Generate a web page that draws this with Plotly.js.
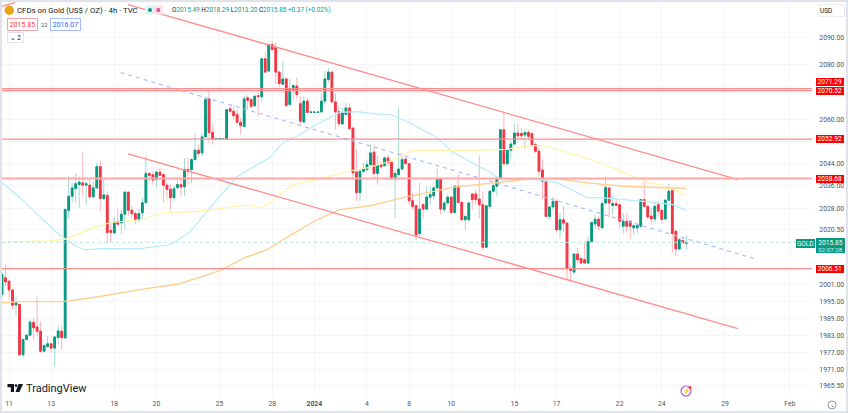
<!DOCTYPE html>
<html>
<head>
<meta charset="utf-8">
<script src="https://cdn.plot.ly/plotly-3.0.1.min.js"></script>
<style>
  html, body { margin: 0; padding: 0; background: #e0e3eb; overflow: hidden; }
  #chart { position: absolute; left: 2px; top: 2px; width: 844px; height: 409px; }
</style>
</head>
<body>
<div id="chart"></div>
<script>
// candles, 4h bars, first one sits two bars before the "11" tick
const opens = [
  1997.4,2003.3,2002.1,1999.0,1993.7,1993.9,1976.3,1981.6,1983.1,1987.6,
  1986.0,1984.5,1977.5,1979.2,1980.1,1978.6,1982.3,1984.5,1982.2,2027.2,
  2032.3,2035.1,2036.5,2037.1,2036.3,2036.3,2032.1,2035.3,2042.9,2031.4,
  2032.6,2020.1,2019.2,2023.3,2022.8,2025.9,2033.8,2027.3,2026.1,2024.0,
  2026.4,2030,2040.5,2040,2038.3,2041,2040.1,2036.3,2034.8,2031.8,
  2035.4,2036.5,2035.7,2041.9,2041.9,2045.5,2048.9,2047.9,2053.7,2067.5,
  2055.3,2053,2053,2053,2053,2063.9,2063,2061.8,2059,2057.5,
  2067.9,2067.3,2065,2068.7,2068.3,2082.2,2077.7,2087.4,2086.2,2077.3,
  2072.9,2074.8,2065.5,2071,2072.2,2065.8,2059.1,2066.7,2062.6,2062.6,
  2062.6,2062.8,2066.7,2074.6,2077.3,2066.4,2062.8,2058.4,2061.8,2064.2,
  2056.9,2041,2033.6,2041.3,2041.9,2043.7,2048.2,2040.5,2043.7,2043.3,
  2046.1,2044.5,2038.5,2040.1,2042.1,2045.7,2044,2030.7,2029,2018.9,
  2029.3,2027.7,2032,2032.5,2035.3,2038.5,2027.5,2029.9,2032,2026.5,
  2035.9,2030.1,2023.9,2023.9,2033.1,2033.1,2031.3,2029.3,2014.1,2028.7,
  2034.1,2035.9,2038.3,2056.3,2044,2048.9,2051.1,2055.1,2054.9,2054.4,
  2055.3,2054.9,2050.9,2048.5,2041.7,2037.7,2025.1,2028.5,2030.5,2020.3,
  2023.9,2022.7,2006.5,2005.3,2011.7,2010.1,2009.7,2008.5,2016.1,2022.4,
  2024.1,2021,2029.9,2035.3,2029,2029.7,2029.3,2021.6,2023.4,2023.4,
  2021,2021,2021.6,2031.1,2028.7,2025.2,2024.2,2029.3,2027.3,2024.2,
  2030.9,2034.5,2019.8,2013.5,2016.5,2015.49
];
const highs = [
  2005.1,2008.0,2002.7,1999.4,1996.6,1994.0,1982.0,1983.5,1988.6,1989.2,
  1996.8,1988.0,1979.8,1982.8,1980.4,1982.8,1986.3,1986.5,2027.7,2039.5,
  2037.1,2040.5,2039.3,2048.1,2037.7,2038.5,2037.7,2044.3,2045.2,2038.3,
  2034.1,2023.4,2024.6,2027.6,2027.6,2033.9,2033.9,2029,2027,2027.8,
  2031.8,2047,2040.9,2041.3,2041.3,2042.5,2040.5,2037.2,2036.5,2036,
  2039,2038.3,2046,2046,2046,2055.1,2050.9,2054.9,2068,2070.3,
  2058.1,2053.3,2053.3,2053.3,2063.9,2065.5,2065.1,2063.6,2060.6,2068.5,
  2068.9,2067.9,2068.7,2070.3,2082.3,2084.4,2087.7,2088.6,2088,2077.4,
  2081.3,2075,2074.8,2072.8,2075.2,2068.5,2068.5,2067.9,2062.9,2062.9,
  2062.9,2069.7,2077.7,2078.9,2077.7,2069.7,2064.6,2064.2,2066.1,2065.8,
  2057,2049.1,2041.9,2044.3,2045.5,2050.9,2050.9,2046.7,2044.9,2046.7,
  2047.3,2044.9,2041.9,2064.1,2047.9,2046.9,2044.1,2033.5,2029.3,2037.1,
  2029.9,2035.9,2035.9,2035.9,2042.1,2039.3,2030.5,2032.9,2032.3,2036.1,
  2040.5,2030.5,2025.7,2030.1,2033.5,2034.7,2046.9,2034.1,2029.3,2034.7,
  2037.1,2039.7,2056.5,2062.3,2049.1,2052.1,2058.5,2058.5,2056.9,2056.5,
  2056.3,2055.4,2051.5,2050.3,2045.5,2037.9,2028.7,2032.1,2031.1,2026.3,
  2028.9,2023,2007.5,2011.9,2013.7,2010.7,2016.1,2017.9,2023.3,2025.7,
  2025.1,2031.1,2039.5,2035.6,2032.9,2031.7,2029.5,2026.4,2026.4,2023.5,
  2022.2,2022.8,2031.4,2037.7,2029.3,2028.1,2029.9,2030.5,2027.6,2031.4,
  2036.8,2034.7,2020.4,2017.4,2017.4,2018.29
];
const lows = [
  1996.3,2000.4,1995.7,1992.1,1990.0,1975.9,1975.5,1981.4,1982.8,1981.6,
  1982.8,1976.9,1977.1,1978.6,1976.9,1972.5,1979.8,1978.1,1981.8,2024.2,
  2030,2030,2028.2,2032.3,2029.3,2031.4,2031.7,2035,2027,2031.1,
  2015.6,2015.9,2018.6,2021.8,2018.6,2020.4,2025.4,2024.6,2022.2,2022.8,
  2024,2029.8,2037.9,2036.5,2035.5,2039.5,2030,2031.2,2027.3,2030.6,
  2034.7,2032.4,2032.4,2036.5,2037,2044.9,2046.7,2046.7,2053.4,2051.5,
  2050.9,2052.8,2052.8,2052.8,2052.9,2062.4,2060.2,2058.5,2054.5,2057.3,
  2063.6,2064.2,2064.6,2061.2,2066.7,2077,2077.3,2085,2072.8,2071.6,
  2072.8,2064.6,2065.1,2067.3,2067.5,2058.1,2058.7,2062.4,2062.4,2062.4,
  2062.4,2062.4,2065.5,2073.4,2066.1,2056.3,2057.5,2058.1,2061.7,2056.5,
  2038.9,2030.6,2030.6,2040.5,2041.3,2043.1,2038.9,2036.5,2042.3,2042.9,
  2043.1,2038.3,2024.5,2039.3,2041.9,2043.7,2029.3,2027.5,2016.7,2018.1,
  2024.5,2027.5,2029.3,2031.1,2034.9,2025.7,2026.5,2029.3,2026,2026,
  2029.7,2023.7,2020.3,2023.3,2027.7,2029.3,2024.5,2012.9,2013.7,2027.7,
  2033.5,2032.5,2038.1,2043.3,2043.1,2045.7,2050.9,2052.9,2052.7,2049.1,
  2053,2050.3,2047.9,2039.7,2031.3,2024.9,2023.7,2027.5,2019.7,2017.3,
  2019.7,2002.5,2001.7,2004.7,2008.3,2008.3,2008.3,2008.3,2015.7,2020.5,
  2020,2021,2029.3,2024.6,2025.8,2028.7,2021,2019,2019.2,2016.8,
  2018.6,2019.2,2021,2028.1,2024,2022.2,2022.8,2025.2,2022.8,2024,
  2030.5,2012.1,2010.9,2013,2015.1,2013.2
];
const closes = [
  2004.5,2001.8,1999.0,1993.6,1994.5,1976.3,1981.6,1983.1,1987.7,1985.7,
  1984.5,1977.5,1979.5,1980.1,1978.6,1982.5,1984.6,1982.2,2027.6,2032.3,
  2035.3,2036.8,2037.4,2036.3,2036.8,2032.1,2035.3,2042.9,2031.5,2032.8,
  2019.4,2019.4,2023.1,2022.3,2025.9,2033.8,2027.3,2026.1,2024.0,2026.1,
  2030,2040.5,2039.8,2038.1,2041,2039.8,2036.3,2034.8,2031.8,2035,
  2036.5,2035.6,2041.9,2041.3,2045.5,2048.9,2047.7,2053.7,2067.3,2055.3,
  2053,2053.1,2053.1,2053.1,2063.6,2063,2061.4,2059,2057.8,2067.5,
  2067,2064.8,2068.5,2068.3,2082.2,2077.3,2087.4,2085.6,2077.3,2073.1,
  2074.8,2065.1,2071,2072.4,2069.1,2059.4,2066.7,2062.6,2062.7,2062.7,
  2062.7,2066.7,2074.8,2077.3,2066.4,2062.8,2058.5,2062.4,2064.2,2056.7,
  2040.7,2033.6,2041.3,2042.2,2043.7,2047.9,2040.5,2043.4,2042.9,2046.1,
  2044.5,2038.5,2040.5,2042.1,2045.5,2044,2030.7,2028.7,2018.5,2027.7,
  2027.7,2032,2032.9,2035.3,2038.5,2027.7,2029.9,2032,2026.5,2035.9,
  2030.1,2023.9,2025.1,2029.9,2031.1,2031.1,2029.3,2014.1,2028.9,2034.1,
  2036.1,2038.3,2056.3,2044,2048.9,2051.1,2055.1,2054.1,2054.1,2055.3,
  2053.9,2050.9,2048.5,2041.3,2037.7,2025.1,2028.5,2030.5,2020.3,2023.9,
  2022.7,2006.5,2005.9,2011.7,2009.7,2008.5,2008.5,2016.1,2022.9,2024.1,
  2021.7,2029.7,2035.5,2029.9,2029.7,2029,2023.4,2023.4,2021.6,2021.6,
  2021.8,2021.8,2031.1,2028.7,2024.9,2024.2,2028.7,2027,2024,2030.9,
  2034.1,2019,2013.5,2016.8,2015.7,2015.85
];

// moving averages, bar number then price
const maBlueX = [-2,3.1,8.8,13.7,16.5,19.4,21.7,25.9,37.3,45.9,51.6,57.3,65,68.7,74.4,78.1,82,87.7,94.3,99.1,105.7,108.5,113.4,121.9,126.5,134.2,137,139.9,150.4,156.1,161.8,164.7,168.4,174.9,181.8,189.2,193];
const maBlueY = [2037.3,2031.8,2025,2019.2,2016.7,2014.3,2013.2,2013.6,2013.6,2015,2019.6,2028.2,2039.4,2042,2046.3,2051.7,2053.9,2058.3,2062.6,2062.9,2061.9,2061.9,2059.3,2053.5,2048.1,2042.7,2040.9,2038.3,2038.3,2037.3,2033.6,2031.8,2031.8,2031.1,2030.4,2029.3,2027.2];
const maYellowX = [-2,0.3,11.7,16.5,23.9,28.8,37.3,43.9,52.4,58.1,65.8,68.7,71.4,74.4,80.9,87.7,96.3,102.8,108.5,114.8,131.3,141.9,146.4,152.1,157.8,165.5,171.2,174.9,181.8,187.8,193];
const maYellowY = [2015.7,2016.1,2016.4,2017.1,2021.1,2022.9,2023.9,2026.4,2026.8,2027.5,2028.9,2028.9,2028.2,2030,2036.5,2038.3,2041.2,2042.7,2044.9,2048.8,2048.8,2049.2,2050.3,2050.6,2048.5,2045.6,2043,2040.9,2037.6,2035.5,2032.6];
const maOrangeX = [-2,3.1,15.4,25.9,37.3,48.7,60.1,67.2,73.5,78.1,87.7,94.3,102.8,112.3,126.5,139.3,146.4,156.1,163.5,174.9,184.6,193];
const maOrangeY = [1994.5,1994.9,1994.9,1996.7,1999.1,2001.2,2005.8,2010.4,2013.2,2016.8,2023.9,2027.5,2028.9,2031.8,2035.5,2037.3,2038.3,2038.7,2037.3,2035.9,2035.5,2035.1];

// drawings
const upperX = [33.9,207.7], upperY = [2102.2,2038.3];
const lowerX = [33.9,207.7], lowerY = [2047.6,1985.4];
const midX = [31.8,212.8], midY = [2077.1,2009.9];
const stubX = [-2,1.7], stubY = [2101.5,2103];
const levels = [2071.29,2070.52,2052.92,2038.68,2006.51];
const lastPrice = 2015.85;

// axes, 2070 and 2052 keep a grid line but their labels sit behind the red tags
const priceTicks = [2090,2080,2070,2060,2052,2044,2036,2028,2020.5,2001,1995,1989,1983,1977,1971,1965.5];
const priceLabels = ["2090.00","2080.00","","2060.00","","2044.00","2036.00","2028.00","2020.50","2001.00","1995.00","1989.00","1983.00","1977.00","1971.00","1965.50"];
const dateTicks = [0,12,30,42,60,75,87,102,114,126,144,156,174,186,204,222.5];
const dateLabels = ["11","13","18","20","25","28","<b>2024</b>","4","8","10","15","17","22","24","29","Feb"];

const barX = opens.map((o, i) => i - 2);
const bodyHigh = opens.map((o, i) => Math.max(o, closes[i]));
const bodyLow = opens.map((o, i) => Math.min(o, closes[i]));

const UP = "#089981", DOWN = "#f23645";
const FONT = "Roboto, 'Liberation Sans', sans-serif";
const levelColor = "#ff8c8c";

function lineTrace(x, y, color, width, dash) {
    return { type: "scatter", mode: "lines", x: x, y: y, hoverinfo: "skip",
             line: { color: color, width: width, dash: dash || "solid" } };
}

let traces = [
    // wicks are paler than the bodies, so they get their own candle trace
    { type: "candlestick", x: barX, open: opens, high: highs, low: lows, close: closes, width: 0.1, whiskerwidth: 0,
      increasing: { line: { color: "#a5d8cf", width: 1 }, fillcolor: "#a5d8cf" },
      decreasing: { line: { color: "#fab4ba", width: 1 }, fillcolor: "#fab4ba" }, hoverinfo: "skip" },
    lineTrace(maBlueX, maBlueY, "#b5ecfa", 1.2),
    lineTrace(maYellowX, maYellowY, "#fff3a6", 1.2),
    lineTrace(maOrangeX, maOrangeY, "#ffcf8f", 1.4),
    { type: "candlestick", x: barX, open: opens, high: bodyHigh, low: bodyLow, close: closes, width: 0.48, whiskerwidth: 0,
      increasing: { line: { color: UP, width: 1 }, fillcolor: UP },
      decreasing: { line: { color: DOWN, width: 1 }, fillcolor: DOWN }, hoverinfo: "skip" },
    lineTrace([-2, 228.8], [lastPrice, lastPrice], "#b9e2da", 1, "dot"),
    lineTrace(upperX, upperY, levelColor, 1.3),
    lineTrace(lowerX, lowerY, levelColor, 1.3),
    lineTrace(stubX, stubY, levelColor, 1.3),
    lineTrace(midX, midY, "#a9bcff", 1.2, "4px,4px")
];
levels.forEach(function(v) {
    let isThick = v == 2038.68;
    traces.push(lineTrace([-2, 228.8], [v, v], isThick ? "#ffa8a8" : levelColor, isThick ? 2.2 : 1.2));
});

// screen pixel to paper fraction, plot area runs 2..812 by 2..398
function px(x) { return (x - 2) / 810; }
function py(y) { return 1 - (y - 2) / 396; }

function label(text, x, y, opts) {
    let o = opts || {};
    return {
        text: text, xref: "paper", yref: "paper", x: px(x), y: py(y),
        xanchor: o.anchor || "left", yanchor: "middle", showarrow: false, align: o.align || "left",
        width: o.width, height: o.height,
        font: { family: FONT, size: o.size || 7.5, color: o.color || "#131722" },
        bgcolor: o.bg, bordercolor: o.border, borderwidth: o.border ? 1 : 0, borderpad: o.pad || 0
    };
}
function redTag(text, y) {
    return label(text, 815.5, y, { width: 27.5, height: 8, bg: "#ff0000", color: "#ffffff", size: 6.6, align: "center" });
}

let annotations = [
    label("CFDs on Gold (US$ / OZ) · 4h · TVC", 17, 10.5, { size: 7.8, color: "#131722" }),
    label("<span style='color:#131722'>O</span>2015.49 <span style='color:#131722'>H</span>2018.29 <span style='color:#131722'>L</span>2013.20 <span style='color:#131722'>C</span>2015.85 +0.37 (+0.02%)",
          172, 10.5, { size: 6.4, color: "#089981" }),
    label("2015.85", 6.5, 24, { width: 29, height: 11, border: "#f7a1a8", color: "#f23645", size: 7, align: "center", bg: "#ffffff" }),
    label("22", 41, 24, { size: 6, color: "#50535e" }),
    label("2016.07", 50, 24, { width: 29, height: 11, border: "#a9bcff", color: "#2962ff", size: 7, align: "center", bg: "#ffffff" }),
    label("⌄ 2", 6.5, 37.5, { width: 15, height: 9, border: "#e0e3eb", color: "#131722", size: 6.5, align: "center", bg: "#ffffff" }),
    label("USD", 819, 10, { width: 24, height: 11, border: "#eceef3", color: "#131722", size: 6.5, bg: "#ffffff" }),
    label("TradingView", 26, 388, { size: 11, color: "#131722" }),
    redTag("2071.29", 82),
    redTag("2070.52", 91),
    redTag("2052.92", 139.3),
    redTag("2038.68", 179),
    redTag("2006.51", 269),
    label("GOLD", 796, 243, { width: 18.5, height: 9, bg: "#089981", color: "#ffffff", size: 6.5, align: "center" }),
    label("2015.85", 815.5, 242.5, { width: 29, height: 9, bg: "#089981", color: "#ffffff", size: 6.6, align: "center" }),
    label("02:07:28", 815.5, 249.5, { width: 29, height: 7, bg: "#089981", color: "#d5f0ea", size: 6.2, align: "center" }),
    label("⌄", 832, 404, { anchor: "center", size: 6, color: "#50535e", align: "center" }),
    label("⚡", 686, 391, { anchor: "center", size: 6, color: "#b455d6", align: "center" })
];

let paperRef = { xref: "paper", yref: "paper" };
let shapes = [
    // symbol badge
    Object.assign({ type: "circle", x0: px(4.5), x1: px(14), y0: py(15), y1: py(5.5), fillcolor: "#e8a317", line: { width: 0 } }, paperRef),
    // market status pill next to the title
    Object.assign({ type: "rect", x0: px(145), x1: px(154), y0: py(14.5), y1: py(5.5), fillcolor: "#dff3ef", line: { width: 0 } }, paperRef),
    Object.assign({ type: "rect", x0: px(154), x1: px(163), y0: py(14.5), y1: py(5.5), fillcolor: "#fbe1e7", line: { width: 0 } }, paperRef),
    Object.assign({ type: "circle", x0: px(148), x1: px(152), y0: py(12), y1: py(8), fillcolor: "#089981", line: { width: 0 } }, paperRef),
    Object.assign({ type: "rect", x0: px(156.5), x1: px(160), y0: py(11.8), y1: py(8.2), fillcolor: "#e0559b", line: { width: 0 } }, paperRef),
    // TradingView mark
    Object.assign({ type: "path", path: "M " + px(7.5) + " " + py(384) + " L " + px(14) + " " + py(384) + " L " + px(14) + " " + py(392) + " L " + px(10.8) + " " + py(392) + " L " + px(10.8) + " " + py(387.2) + " L " + px(7.5) + " " + py(387.2) + " Z",
                    fillcolor: "#131722", line: { width: 0 } }, paperRef),
    Object.assign({ type: "path", path: "M " + px(18.5) + " " + py(384) + " L " + px(23) + " " + py(384) + " L " + px(19.5) + " " + py(392) + " L " + px(15.5) + " " + py(392) + " Z",
                    fillcolor: "#131722", line: { width: 0 } }, paperRef),
    Object.assign({ type: "circle", x0: px(14.6), x1: px(17.4), y0: py(387), y1: py(384.2), fillcolor: "#131722", line: { width: 0 } }, paperRef),
    // lightning badge
    Object.assign({ type: "circle", x0: px(681), x1: px(691), y0: py(396), y1: py(386), line: { color: "#b455d6", width: 1.2 } }, paperRef),
    Object.assign({ type: "circle", x0: px(688.5), x1: px(691.5), y0: py(389), y1: py(386), fillcolor: "#f23645", line: { width: 0 } }, paperRef),
    // clock button
    Object.assign({ type: "circle", x0: px(828), x1: px(836), y0: py(409), y1: py(401), line: { color: "#787b86", width: 0.8 } }, paperRef)
];

let layout = {
    width: 844,
    height: 409,
    margin: { l: 0, r: 34, t: 0, b: 13 },
    paper_bgcolor: "#ffffff",
    plot_bgcolor: "#ffffff",
    showlegend: false,
    dragmode: false,
    font: { family: FONT, size: 7, color: "#131722" },
    xaxis: {
        range: [-2, 228.8],
        rangeslider: { visible: false },
        tickmode: "array", tickvals: dateTicks, ticktext: dateLabels,
        showgrid: true, gridcolor: "#f4f5f8", gridwidth: 1,
        zeroline: false, showline: false, ticks: "", tickangle: 0,
        tickfont: { family: FONT, size: 6.8, color: "#50535e" }
    },
    yaxis: {
        type: "log",
        // nudged a little so the 2071.29 and 2070.52 lines land on separate pixel rows
        range: [Math.log10(1961.26), Math.log10(2103.15)],
        side: "right",
        tickmode: "array", tickvals: priceTicks, ticktext: priceLabels,
        showgrid: true, gridcolor: "#f4f5f8", gridwidth: 1,
        zeroline: false, showline: false, ticks: "outside", ticklen: 5, tickcolor: "rgba(0,0,0,0)",
        tickfont: { family: FONT, size: 6.8, color: "#50535e" }
    },
    annotations: annotations,
    shapes: shapes
};

Plotly.newPlot("chart", traces, layout, { displayModeBar: false, staticPlot: true });
</script>
</body>
</html>
